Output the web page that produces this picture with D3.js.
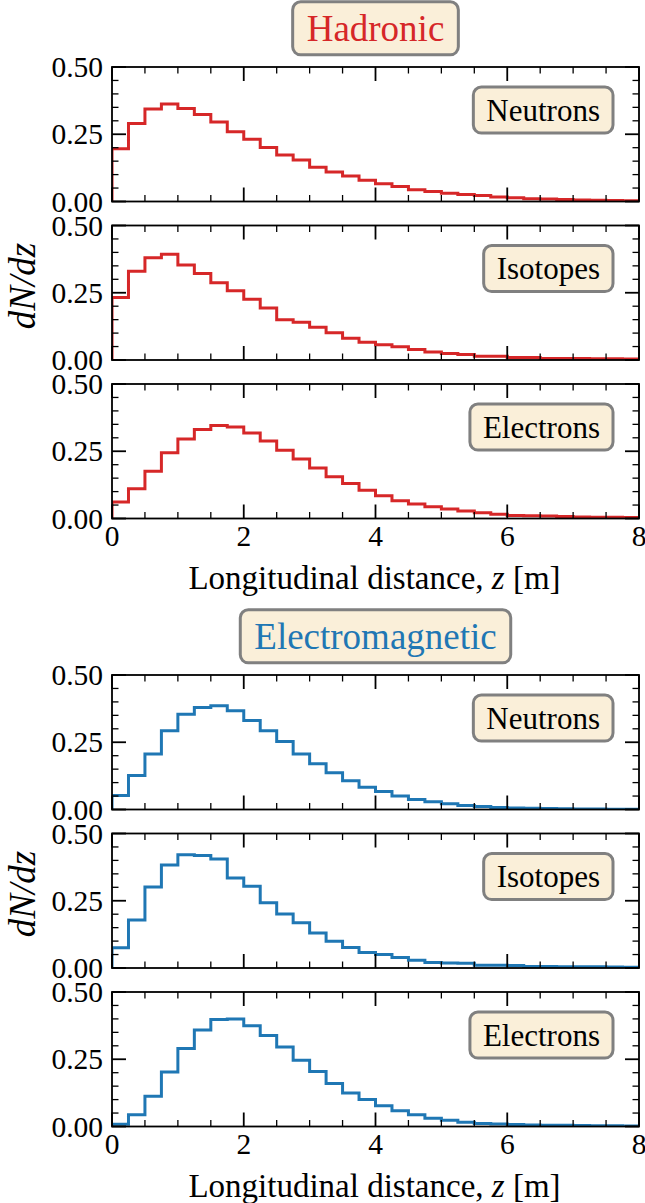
<!DOCTYPE html>
<html><head><meta charset="utf-8">
<script src="https://cdn.jsdelivr.net/npm/d3@7"></script>
<style>html,body{margin:0;padding:0;background:#fff;} svg{display:block;}</style>
</head><body>
<svg id="c" width="645" height="1203"></svg>
<script>
// ---------------- data ----------------
const groups = ["Hadronic", "Electromagnetic"];
const groupColors = ["#d62728", "#1f77b4"];
const particles = ["Neutrons", "Isotopes", "Electrons"];
const xTicks = [0, 2, 4, 6, 8];
const xTickLabels = ["0", "2", "4", "6", "8"];
const yTicks = [0.00, 0.25, 0.50];
const yTickLabels = ["0.00", "0.25", "0.50"];
const binWidth = 0.25;           // 32 bins from 0 to 8 m
const xLabel = "Longitudinal distance, ";
const xLabelVar = "z";
const xLabelUnit = " [m]";

const hadNeutrons = [0.196,0.290,0.344,0.362,0.346,0.323,0.296,0.259,0.231,0.201,0.173,0.154,0.127,0.110,0.095,0.079,
                     0.066,0.056,0.044,0.037,0.031,0.026,0.022,0.017,0.014,0.010,0.009,0.007,0.006,0.005,0.004,0.003];
const hadIsotopes = [0.232,0.330,0.380,0.393,0.353,0.322,0.287,0.257,0.226,0.193,0.150,0.140,0.122,0.101,0.081,0.066,
                     0.057,0.049,0.039,0.030,0.024,0.020,0.014,0.014,0.009,0.009,0.006,0.006,0.0055,0.005,0.005,0.004];
const hadElectrons = [0.061,0.111,0.176,0.244,0.296,0.331,0.346,0.340,0.318,0.288,0.254,0.221,0.188,0.155,0.130,0.105,
                      0.085,0.066,0.054,0.044,0.035,0.0275,0.021,0.016,0.011,0.010,0.009,0.0075,0.006,0.005,0.005,0.004];
const emNeutrons = [0.052,0.126,0.206,0.293,0.354,0.379,0.386,0.367,0.331,0.293,0.253,0.206,0.170,0.137,0.107,0.083,
                    0.067,0.050,0.037,0.029,0.021,0.015,0.011,0.0075,0.006,0.005,0.004,0.003,0.002,0.002,0.001,0.001];
const emIsotopes = [0.075,0.178,0.301,0.383,0.421,0.418,0.405,0.335,0.304,0.243,0.201,0.168,0.130,0.099,0.076,0.058,
                    0.050,0.039,0.029,0.020,0.019,0.0175,0.010,0.010,0.009,0.006,0.006,0.005,0.005,0.005,0.004,0.003];
const emElectrons = [0.008,0.044,0.112,0.203,0.290,0.359,0.398,0.400,0.375,0.338,0.296,0.246,0.204,0.160,0.125,0.100,
                     0.077,0.059,0.044,0.031,0.023,0.016,0.011,0.009,0.0075,0.006,0.005,0.005,0.004,0.003,0.003,0.002];

const series = [[hadNeutrons, hadIsotopes, hadElectrons], [emNeutrons, emIsotopes, emElectrons]];

// ---------------- layout ----------------
const FONT = "'Liberation Serif', 'Times New Roman', serif";
const X0 = 112, X1 = 639;
const figOffsets = [0, 608];
const panelTops = [67, 225.5, 384];
const panelH = 134.5;
const titleCY = 28.3;
const boxFill = "#faefd9", boxStroke = "#808080";

const svg = d3.select("#c");
const x = d3.scaleLinear().domain([0, 8]).range([X0, X1]);

groups.forEach((g, gi) => {
  const off = figOffsets[gi];
  const color = groupColors[gi];

  // Title box
  const tg = svg.append("g");
  const tt = tg.append("text")
    .attr("x", (X0 + X1) / 2).attr("y", off + titleCY)
    .attr("text-anchor", "middle").attr("dominant-baseline", "central")
    .attr("font-family", FONT).attr("font-size", 37).attr("fill", color)
    .text(g);
  const tw = tt.node().getComputedTextLength();
  tg.insert("rect", "text")
    .attr("x", (X0 + X1) / 2 - tw / 2 - 14).attr("y", off + titleCY - 26.5)
    .attr("width", tw + 28).attr("height", 53)
    .attr("rx", 8).attr("fill", boxFill).attr("stroke", boxStroke).attr("stroke-width", 3);

  particles.forEach((p, pi) => {
    const top = off + panelTops[pi];
    const y = d3.scaleLinear().domain([0, 0.5]).range([top + panelH, top]);
    const vals = series[gi][pi];
    const pg = svg.append("g");
    const cid = `clip${gi}${pi}`;
    pg.append("clipPath").attr("id", cid).append("rect")
      .attr("x", X0).attr("y", top).attr("width", X1 - X0).attr("height", panelH);

    // step histogram points
    const pts = [[0, 0]];
    vals.forEach((v, i) => { pts.push([i * binWidth, v]); pts.push([(i + 1) * binWidth, v]); });
    pts.push([vals.length * binWidth, 0]);
    pg.append("path")
      .attr("clip-path", `url(#${cid})`)
      .attr("d", d3.line().x(d => x(d[0])).y(d => y(d[1]))(pts))
      .attr("fill", "none").attr("stroke", color).attr("stroke-width", 3)
      .attr("stroke-linejoin", "miter");

    // ticks (inward, all sides)
    const ticksG = pg.append("g").attr("stroke", "#000");
    const xMinor = d3.range(0, 8.001, 0.5).filter(t => !xTicks.includes(t));
    const yMinor = d3.range(0, 0.5001, 0.05).filter(t => !yTicks.some(m => Math.abs(m - t) < 1e-6));
    const addX = (arr, len, w) => arr.forEach(t => {
      ticksG.append("line").attr("x1", x(t)).attr("x2", x(t)).attr("y1", top + panelH).attr("y2", top + panelH - len).attr("stroke-width", w);
      ticksG.append("line").attr("x1", x(t)).attr("x2", x(t)).attr("y1", top).attr("y2", top + len).attr("stroke-width", w);
    });
    const addY = (arr, len, w) => arr.forEach(t => {
      ticksG.append("line").attr("x1", X0).attr("x2", X0 + len).attr("y1", y(t)).attr("y2", y(t)).attr("stroke-width", w);
      ticksG.append("line").attr("x1", X1).attr("x2", X1 - len).attr("y1", y(t)).attr("y2", y(t)).attr("stroke-width", w);
    });
    addX(xTicks, 14, 1.8); addX(xMinor, 6.5, 1.3);
    addY(yTicks, 14, 1.8); addY(yMinor, 6.5, 1.3);

    // frame
    pg.append("rect").attr("x", X0).attr("y", top).attr("width", X1 - X0).attr("height", panelH)
      .attr("fill", "none").attr("stroke", "#000").attr("stroke-width", 1.8);

    // y tick labels
    yTicks.forEach((t, i) => {
      pg.append("text").attr("x", 103).attr("y", y(t))
        .attr("text-anchor", "end").attr("dominant-baseline", "central")
        .attr("font-family", FONT).attr("font-size", 29.5).attr("fill", "#000")
        .text(yTickLabels[i]);
    });

    // particle label box
    const bcy = top + 0.32 * panelH;
    const lt = pg.append("text").attr("x", 613 - 13).attr("y", bcy)
      .attr("text-anchor", "end").attr("dominant-baseline", "central")
      .attr("font-family", FONT).attr("font-size", 31).attr("fill", "#000").text(p);
    const lw = lt.node().getComputedTextLength();
    pg.insert("rect", "text:last-of-type")
      .attr("x", 613 - lw - 26).attr("y", bcy - 23).attr("width", lw + 26).attr("height", 46)
      .attr("rx", 8).attr("fill", boxFill).attr("stroke", boxStroke).attr("stroke-width", 3);
    lt.raise();

    // x tick labels + axis label on bottom panel
    if (pi === particles.length - 1) {
      xTicks.forEach((t, i) => {
        pg.append("text").attr("x", x(t)).attr("y", top + panelH + 17)
          .attr("text-anchor", "middle").attr("dominant-baseline", "central")
          .attr("font-family", FONT).attr("font-size", 29.5).attr("fill", "#000")
          .text(xTickLabels[i]);
      });
      const xl = pg.append("text").attr("x", (X0 + X1) / 2 - 1).attr("y", top + panelH + 59)
        .attr("text-anchor", "middle").attr("dominant-baseline", "central")
        .attr("font-family", FONT).attr("font-size", 33).attr("fill", "#000");
      xl.append("tspan").text(xLabel);
      xl.append("tspan").attr("font-style", "italic").text(xLabelVar);
      xl.append("tspan").text(xLabelUnit);
    }
  });

  // y label
  const ycy = off + 286;
  svg.append("text").attr("transform", `translate(22,${ycy}) rotate(-90)`)
    .attr("text-anchor", "middle").attr("dominant-baseline", "central")
    .attr("font-family", FONT).attr("font-size", 37).attr("font-style", "italic").attr("fill", "#000")
    .text("dN/dz");
});
</script>
</body></html>
